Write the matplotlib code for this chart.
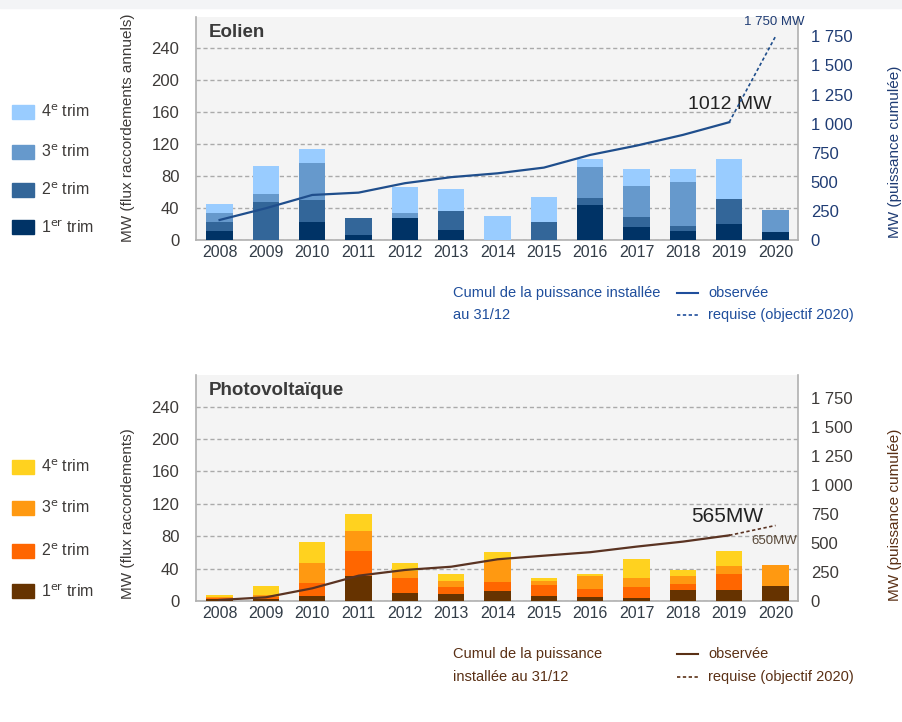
import matplotlib
matplotlib.use('Agg')
import matplotlib.pyplot as plt
import numpy as np

plt.rcParams['font.family'] = ['Liberation Sans Narrow', 'Liberation Sans', 'DejaVu Sans']

years = ['2008', '2009', '2010', '2011', '2012', '2013', '2014',
         '2015', '2016', '2017', '2018', '2019', '2020']

# Eolien - quarterly connections (MW)
eol_t1 = [11, 0, 23, 6, 28, 12, 0, 0, 44, 16, 11, 20, 10]
eol_t2 = [11, 48, 27, 22, 0, 24, 0, 23, 8, 13, 7, 31, 0]
eol_t3 = [12, 10, 46, 0, 6, 0, 0, 0, 39, 39, 54, 0, 28]
eol_t4 = [11, 35, 18, 0, 32, 28, 30, 31, 10, 21, 17, 50, 0]
eol_cumul = [172, 273, 387, 407, 488, 540, 573, 622, 731, 811, 903, 1012]
eol_target = [1012, 1750]

# Photovoltaique - quarterly connections (MW)
pv_t1 = [2, 2, 6, 31, 10, 9, 12, 6, 5, 4, 14, 13, 18]
pv_t2 = [2, 3, 16, 31, 19, 8, 12, 14, 10, 13, 7, 20, 0]
pv_t3 = [1, 3, 25, 25, 8, 8, 26, 5, 16, 11, 10, 10, 26]
pv_t4 = [2, 11, 26, 21, 10, 8, 10, 4, 2, 24, 7, 19, 0]
pv_cumul = [9, 32, 109, 218, 267, 295, 359, 390, 420, 468, 511, 565]
pv_target = [565, 650]

eol_colors = ['#003366', '#336699', '#6699cc', '#99ccff']
pv_colors = ['#663300', '#ff6600', '#ff9911', '#ffd21f']

fig = plt.figure(figsize=(9.03, 7.22), dpi=100)
fig.patches.append(plt.Rectangle((0, 0.989), 1, 0.011, transform=fig.transFigure,
                                 color='#f3f4f6', zorder=0))


def panel(rect, quarters, colors, cumul, target, title, title_size, line_color, right_top,
          tick_col, right_col):
    ax = fig.add_axes(rect)
    ax.set_facecolor('#f4f4f4')
    x = np.arange(len(years))
    bottom = np.zeros(len(years))
    for q, c in zip(quarters, colors):
        ax.bar(x, q, 0.57, bottom=bottom, color=c, zorder=3)
        bottom += np.array(q)
    ax.set_xlim(-0.51, 12.49)
    ax.set_ylim(0, 279)
    ax.set_yticks([0, 40, 80, 120, 160, 200, 240])
    ax.set_xticks(x)
    ax.set_xticklabels(years)
    ax.tick_params(length=0, labelsize=11.5, colors='#333d48')
    ax.tick_params(axis='y', pad=12, colors=tick_col, labelsize=12)
    ax.grid(axis='y', ls=(0, (3, 2)), color='#aaaaaa', lw=1, zorder=1)
    ax.spines['top'].set_visible(False)
    for s in ['left', 'bottom', 'right']:
        ax.spines[s].set_color('#b0b0b0')
        ax.spines[s].set_linewidth(1.2)
    ax.text(0.022, 0.93, title, transform=ax.transAxes, fontsize=title_size,
            fontweight='bold', color='#3a3a3a', va='center', ha='left', zorder=5)

    ax2 = ax.twinx()
    ax2.set_ylim(0, right_top)
    ax2.set_yticks([0, 250, 500, 750, 1000, 1250, 1500, 1750])
    ax2.set_yticklabels(['0', '250', '500', '750', '1 000', '1 250', '1 500', '1 750'])
    ax2.tick_params(length=0, labelsize=12, colors=right_col, pad=9)
    for s in ['top', 'left', 'bottom', 'right']:
        ax2.spines[s].set_visible(False)
    ax2.plot(x[:len(cumul)], cumul, color=line_color, lw=1.6, zorder=6)
    ax2.plot(x[len(cumul) - 1:], target, color=line_color, lw=1.2, ls=(0, (2, 1.5)), zorder=6)
    return ax, ax2


ax_e, ax_e2 = panel([0.217, 0.6676, 0.667, 0.309], [eol_t1, eol_t2, eol_t3, eol_t4],
                    eol_colors, eol_cumul, eol_target, 'Eolien', 13.5, '#1f4e8c', 1917,
                    '#3d3a38', '#1f3c74')
ax_p, ax_p2 = panel([0.217, 0.1676, 0.667, 0.313], [pv_t1, pv_t2, pv_t3, pv_t4],
                    pv_colors, pv_cumul, pv_target, 'Photovoltaïque', 13.5, '#5a3322', 1945,
                    '#3d3a38', '#3d3a38')

# annotations on lines
ax_e2.text(11.02, 1161, '1012 MW', fontsize=14, color='#222222', ha='center', va='center')
ax_e2.text(11.97, 1874, '1 750 MW', fontsize=9.5, color='#1f3c74', ha='center', va='center')
ax_p2.text(10.96, 723, '565MW', fontsize=15, color='#222222', ha='center', va='center')
ax_p2.text(11.97, 516, '650MW', fontsize=9.5, color='#5a4a3a', ha='center', va='center')

# y axis labels
fig.text(0.142, 0.823, 'MW (flux raccordements annuels)', rotation=90, ha='center',
         va='center', fontsize=11, color='#3d3a38')
fig.text(0.991, 0.79, 'MW (puissance cumulée)', rotation=90, ha='center',
         va='center', fontsize=11, color='#1f3c74')
fig.text(0.142, 0.288, 'MW (flux raccordements)', rotation=90, ha='center',
         va='center', fontsize=11, color='#3d3a38')
fig.text(0.991, 0.287, 'MW (puissance cumulée)', rotation=90, ha='center',
         va='center', fontsize=11, color='#5a3015')

# quarter legends
labels = ['1$^{\\mathrm{er}}$ trim', '2$^{\\mathrm{e}}$ trim',
          '3$^{\\mathrm{e}}$ trim', '4$^{\\mathrm{e}}$ trim']
eol_leg_y = [227, 190, 152, 112]
pv_leg_y = [591, 551, 508, 467]
for colors, ys in [(eol_colors, eol_leg_y), (pv_colors, pv_leg_y)]:
    for c, lab, yp in zip(colors, labels, ys):
        fy = 1 - yp / 722
        fig.patches.append(plt.Rectangle((12 / 903, fy - 7 / 722), 22 / 903, 14 / 722,
                                         transform=fig.transFigure, color=c))
        fig.text(41 / 903, fy, lab, fontsize=11.5, color='#3d3a38', va='center')

# line legends
for lines, ys, col in [(['Cumul de la puissance installée', 'au 31/12'], (293, 315), '#1f4e9c'),
                       (['Cumul de la puissance', 'installée au 31/12'], (654, 677), '#5a3015')]:
    fig.text(453 / 903, 1 - ys[0] / 722, lines[0], fontsize=10.5, color=col, va='center')
    fig.text(453 / 903, 1 - ys[1] / 722, lines[1], fontsize=10.5, color=col, va='center')
    fig.text(708 / 903, 1 - ys[0] / 722, 'observée', fontsize=10.5, color=col, va='center')
    fig.text(708 / 903, 1 - ys[1] / 722, 'requise (objectif 2020)', fontsize=10.5, color=col,
             va='center')
    fig.add_artist(plt.Line2D([677 / 903, 698 / 903], [1 - ys[0] / 722] * 2, color=col, lw=1.5))
    fig.add_artist(plt.Line2D([677 / 903, 698 / 903], [1 - ys[1] / 722] * 2, color=col, lw=1.2,
                              ls=(0, (2, 1.5))))

fig.savefig('out.png', dpi=100)
